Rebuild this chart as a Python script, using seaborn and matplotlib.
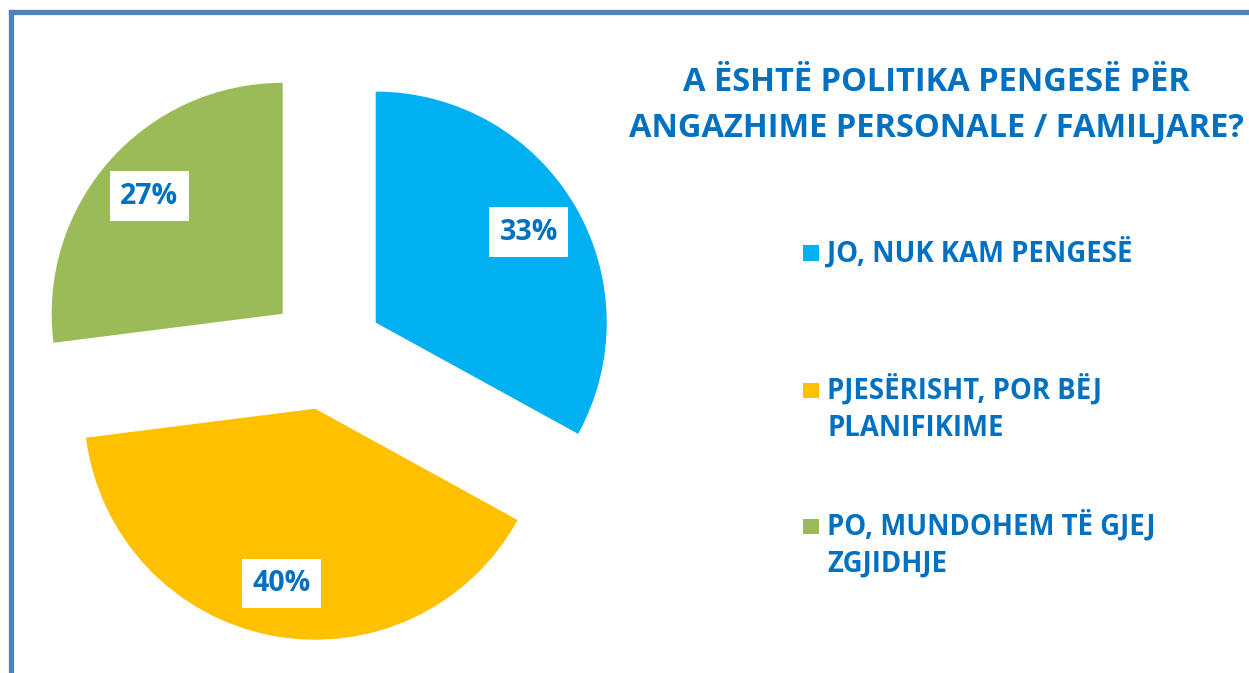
import matplotlib
matplotlib.use("Agg")
import matplotlib.pyplot as plt
import seaborn as sns
from matplotlib.patches import Rectangle
from matplotlib.lines import Line2D

# ---- data ----
categories = ["JO, NUK KAM PENGESË",
              "PJESËRISHT, POR BËJ\nPLANIFIKIME",
              "PO, MUNDOHEM TË GJEJ\nZGJIDHJE"]
values = [33, 40, 27]
colors = ["#00B0F0", "#FFC000", "#9BBB59"]
title_lines = ["A ËSHTË POLITIKA PENGESË PËR", "ANGAZHIME PERSONALE / FAMILJARE?"]

sns.set_theme(style="white")
plt.rcParams["font.family"] = ["Open Sans", "DejaVu Sans"]

TEXT = "#0070C0"
W, H = 1249, 673
fig = plt.figure(figsize=(W / 100, H / 100), dpi=100)
fig.patch.set_facecolor("white")

# pie axes: center (326, 352) px from top, radius 231 px
R = 231
lim = 1.35
side = 2 * lim * R
cx, cy = 326, H - 352
ax = fig.add_axes([(cx - side / 2) / W, (cy - side / 2) / H, side / W, side / H])
wedges, texts, autotexts = ax.pie(
    values, colors=colors, startangle=90, counterclock=False,
    explode=[0.25] * len(values), radius=1,
    autopct="%1.0f%%", pctdistance=0.77,
    wedgeprops=dict(linewidth=0),
    textprops=dict(color=TEXT, fontsize=20.5, fontweight="bold"))
for t in autotexts:
    t.set_bbox(dict(boxstyle="square,pad=0.36", facecolor="white", edgecolor="none"))
ax.set_xlim(-lim, lim)
ax.set_ylim(-lim, lim)
ax.set_aspect("equal")
ax.axis("off")

# title (baselines in px from top)
for line, yb in zip(title_lines, [91, 136]):
    fig.text(936 / W, 1 - yb / H, line, ha="center", va="baseline",
             color=TEXT, fontsize=23.5, fontweight="bold")

# legend (manual)
leg_base = [262, 399, 535]
line_gap = 36.5
for lab, col, yb in zip(categories, colors, leg_base):
    fig.patches.append(Rectangle((803 / W, 1 - (yb - 1) / H), 15.5 / W, 15.5 / H,
                                 transform=fig.transFigure, facecolor=col,
                                 edgecolor="none"))
    for i, ln in enumerate(lab.split("\n")):
        fig.text(827 / W, 1 - (yb + i * line_gap) / H, ln, ha="left", va="baseline",
                 color=TEXT, fontsize=19.8, fontweight="bold")

# border (top and left visible)
bc = "#4F81BD"
fig.lines.append(Line2D([10.5 / W, 10.5 / W], [0, 1 - 11.5 / H],
                        transform=fig.transFigure, color=bc, linewidth=3.8,
                        solid_capstyle="projecting"))
fig.lines.append(Line2D([10.5 / W, 1], [1 - 11.5 / H, 1 - 11.5 / H],
                        transform=fig.transFigure, color=bc, linewidth=3.8,
                        solid_capstyle="projecting"))

fig.savefig("out.png", dpi=100)
